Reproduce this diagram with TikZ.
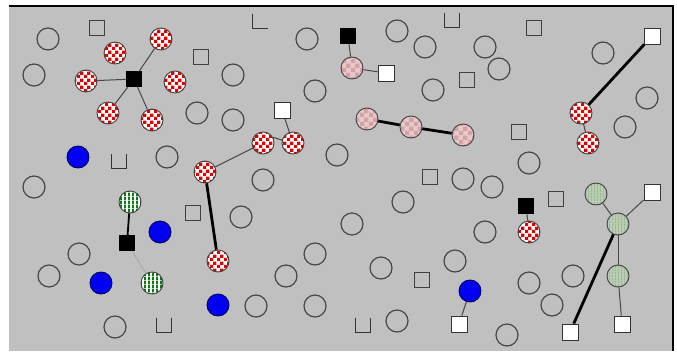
\documentclass[tikz,border=0pt]{standalone}
\usepackage{xcolor}
\usepackage{tikz}
\usetikzlibrary{patterns}
\definecolor{PanelGray}{HTML}{C0C0C0}
\definecolor{RingGray}{HTML}{474747}
\definecolor{CheckRed}{HTML}{E00000}
\definecolor{RoseBase}{HTML}{E8C8C8}
\definecolor{RoseCheck}{HTML}{D3A2A6}
\definecolor{LeafGreen}{HTML}{0B7A12}
\definecolor{SageBase}{HTML}{BCCDB6}
\definecolor{SageLine}{HTML}{9DB795}
\definecolor{DotBlue}{HTML}{0000F2}

\pgfdeclarepatternformonly{smallchecks}{\pgfpointorigin}{\pgfqpoint{7pt}{7pt}}{\pgfqpoint{7pt}{7pt}}{%
  \pgfpathrectangle{\pgfpointorigin}{\pgfqpoint{3.5pt}{3.5pt}}%
  \pgfpathrectangle{\pgfqpoint{3.5pt}{3.5pt}}{\pgfqpoint{3.5pt}{3.5pt}}%
  \pgfusepath{fill}}
\pgfdeclarepatternformonly{largechecks}{\pgfpointorigin}{\pgfqpoint{9pt}{9pt}}{\pgfqpoint{9pt}{9pt}}{%
  \pgfpathrectangle{\pgfpointorigin}{\pgfqpoint{4.5pt}{4.5pt}}%
  \pgfpathrectangle{\pgfqpoint{4.5pt}{4.5pt}}{\pgfqpoint{4.5pt}{4.5pt}}%
  \pgfusepath{fill}}
\pgfdeclarepatternformonly{vstripes}{\pgfpointorigin}{\pgfqpoint{4pt}{4pt}}{\pgfqpoint{4pt}{4pt}}{%
  \pgfpathrectangle{\pgfpointorigin}{\pgfqpoint{2.2pt}{4pt}}%
  \pgfusepath{fill}}
\pgfdeclarepatternformonly{finestripes}{\pgfpointorigin}{\pgfqpoint{3pt}{3pt}}{\pgfqpoint{3pt}{3pt}}{%
  \pgfpathrectangle{\pgfpointorigin}{\pgfqpoint{1.3pt}{3pt}}%
  \pgfusepath{fill}}

\tikzset{
  ring/.style={circle, draw=RingGray, line width=1.2pt, minimum size=22pt, inner sep=0pt},
  ball/.style={circle, draw=black!75, line width=0.9pt, minimum size=22pt, inner sep=0pt},
  redchk/.style={ball, preaction={fill=white}, pattern=smallchecks, pattern color=CheckRed},
  pinkchk/.style={ball, preaction={fill=RoseBase}, pattern=largechecks, pattern color=RoseCheck},
  greenstr/.style={ball, preaction={fill=white}, pattern=vstripes, pattern color=LeafGreen},
  sagestr/.style={ball, preaction={fill=SageBase}, pattern=finestripes, pattern color=SageLine},
  bluedot/.style={ball, fill=DotBlue, draw=blue!35!black},
  blacksq/.style={rectangle, fill=black, minimum size=16pt, inner sep=0pt},
  whitesq/.style={rectangle, fill=white, draw=black!80, line width=0.8pt, minimum size=16pt, inner sep=0pt},
  opensq/.style={rectangle, draw=black!75, line width=1pt, minimum size=15pt, inner sep=0pt},
  cupline/.style={draw=black!80, line width=1pt},
  link/.style={draw=black!72, line width=1pt},
  heavy/.style={draw=black, line width=2.8pt},
  faint/.style={draw=black!35, line width=0.8pt}
}

\begin{document}
\begin{tikzpicture}[x=1pt, y=-1pt]
    \useasboundingbox (0,0) rectangle (677,351);
    \fill[white] (0,0) rectangle (677,351);
    \fill[PanelGray] (9,6) rectangle (673,351);
    \draw[black, line width=1.2pt] (9,6) -- (673,6) -- (673,351);

    % empty rings
    \foreach \x/\y [count=\n] in {48/39, 34/75, 197/113, 233/75, 233/120, 167/157,
        307/39, 397/31, 425/47, 315/91, 433/90, 337/155, 485/47, 499/69,
        603/53, 647/98, 625/127, 529/163, 463/179, 492/187, 34/187, 79/254,
        49/276, 115/327, 263/180, 241/217, 352/224, 403/202, 315/254, 286/276,
        381/268, 256/306, 315/306, 397/321, 455/261, 485/232, 573/276, 529/283,
        552/305, 507/335} {
      \node[ring] (o\n) at (\x,\y) {};
    }
    % empty boxes and cups
    \foreach \x/\y [count=\n] in {97/28, 201/57, 467/80, 534/28, 519/132, 430/177, 193/213, 556/199, 422/280} {
      \node[opensq] (q\n) at (\x,\y) {};
    }
    \foreach \x/\y in {119/161, 164/325, 363/325, 452/20} {
      \draw[cupline] (\x-7.5,\y-7) -- (\x-7.5,\y+7) -- (\x+7.5,\y+7) -- (\x+7.5,\y-7);
    }
    \draw[cupline] (252.5,14) -- (252.5,28) -- (267.5,28);

    % red checkers
    \node[redchk] (ra) at (161,39) {};
    \node[redchk] (rb) at (115,53) {};
    \node[redchk] (rc) at (86,81) {};
    \node[redchk] (rd) at (175,82) {};
    \node[redchk] (re) at (108,113) {};
    \node[redchk] (rf) at (152,120) {};
    \node[redchk] (rg) at (205,172) {};
    \node[redchk] (rh) at (218,261) {};
    \node[redchk] (ri) at (263,143) {};
    \node[redchk] (rj) at (293,143) {};
    \node[redchk] (rk) at (581,113) {};
    \node[redchk] (rl) at (588,143) {};
    \node[redchk] (rm) at (529,232) {};
    % rose checkers
    \node[pinkchk] (pa) at (352,68) {};
    \node[pinkchk] (pb) at (367,119) {};
    \node[pinkchk] (pc) at (411,127) {};
    \node[pinkchk] (pd) at (463,135) {};
    % striped
    \node[greenstr] (ga) at (130,202) {};
    \node[greenstr] (gb) at (152,283) {};
    \node[sagestr] (sa) at (596,194) {};
    \node[sagestr] (sb) at (618,224) {};
    \node[sagestr] (sc) at (618,276) {};
    % blue
    \node[bluedot] (ba) at (78,157) {};
    \node[bluedot] (bb) at (160,232) {};
    \node[bluedot] (bc) at (101,283) {};
    \node[bluedot] (bd) at (218,305) {};
    \node[bluedot] (be) at (470,291) {};
    % squares
    \node[blacksq] (ka) at (134,79) {};
    \node[blacksq] (kb) at (348,36) {};
    \node[blacksq] (kc) at (127,243) {};
    \node[blacksq] (kd) at (526,206) {};
    \node[whitesq] (wa) at (386,73) {};
    \node[whitesq] (wb) at (282,110) {};
    \node[whitesq] (wc) at (652,36) {};
    \node[whitesq] (wd) at (652,192) {};
    \node[whitesq] (we) at (459,324) {};
    \node[whitesq] (wf) at (570,332) {};
    \node[whitesq] (wg) at (622,324) {};

    % links
    \foreach \t in {ra, rc, re, rf} {
      \draw[link] (ka) -- (\t);
    }
    \draw[link] (kb) -- (pa);
    \draw[link] (pa) -- (wa);
    \draw[link] (wb) -- (rj);
    \draw[link] (ri.30) -- (rj.165);
    \draw[link] (ri) -- (rg);
    \draw[heavy] (rg) -- (rh);
    \draw[heavy] (pb) -- (pc);
    \draw[heavy] (pc) -- (pd);
    \draw[heavy] (wc) -- (rk);
    \draw[link] (rk) -- (rl);
    \draw[black, line width=1.8pt] (ga) -- (kc);
    \draw[faint] (kc) -- (gb);
    \draw[link] (kd) -- (rm);
    \draw[link] (sa) -- (sb);
    \draw[link] (sb) -- (wd);
    \draw[heavy] (sb) -- (wf);
    \draw[link] (sb) -- (sc);
    \draw[link] (sc) -- (wg);
    \draw[link] (be) -- (we);
\end{tikzpicture}
\end{document}
